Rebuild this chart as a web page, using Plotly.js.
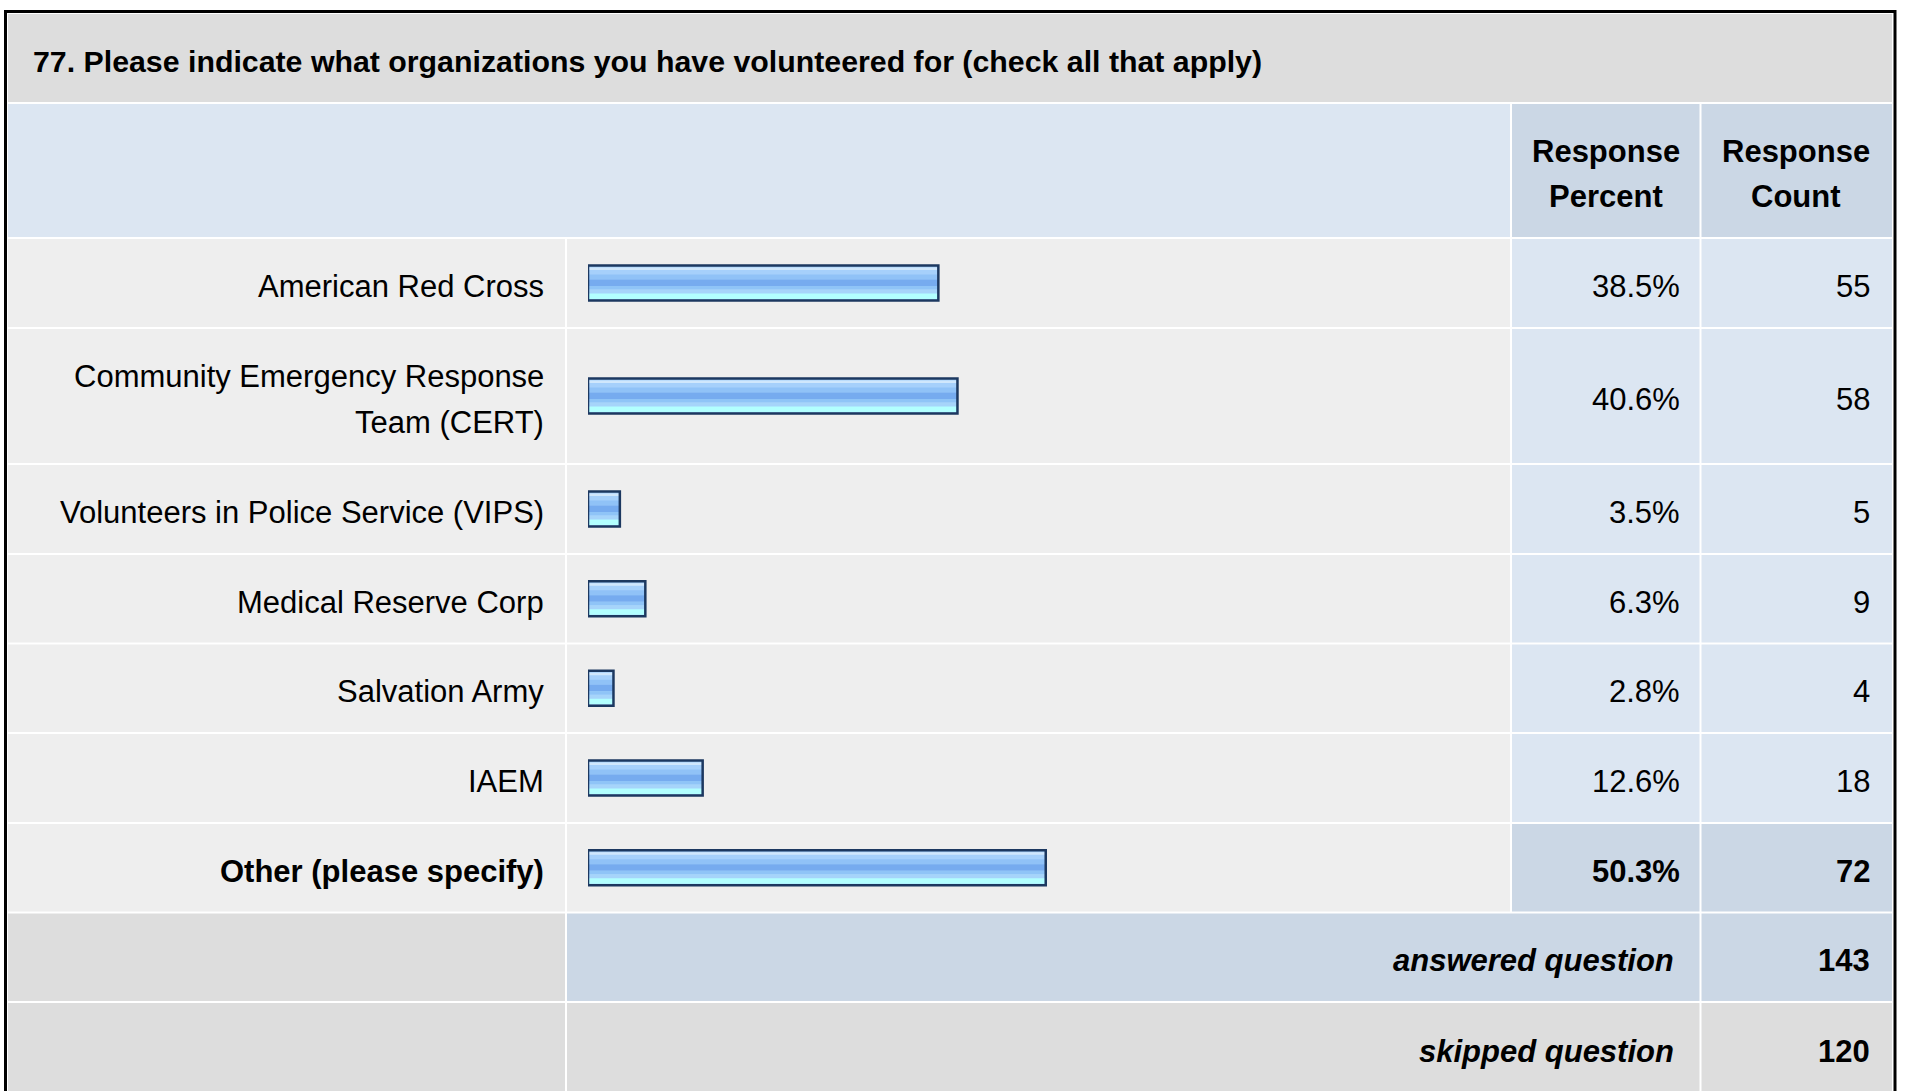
<!DOCTYPE html>
<html>
<head>
<meta charset="utf-8">
<script src="https://cdn.plot.ly/plotly-3.0.1.min.js"></script>
<style>html,body{margin:0;padding:0;background:#fff;}#chart{width:1911px;height:1091px;}</style>
</head>
<body>
<div id="chart"></div>
<script>
// ---------------- DATA ----------------
const questionTitle = "77. Please indicate what organizations you have volunteered for (check all that apply)";
const categories = [
  "American Red Cross",
  "Community Emergency Response<br>Team (CERT)",
  "Volunteers in Police Service (VIPS)",
  "Medical Reserve Corp",
  "Salvation Army",
  "IAEM",
  "Other (please specify)"
];
const responsePercent = [38.5, 40.6, 3.5, 6.3, 2.8, 12.6, 50.3];
const responseCount = [55, 58, 5, 9, 4, 18, 72];
const columnHeaders = ["Response<br>Percent", "Response<br>Count"];
const summaryLabels = ["answered question", "skipped question"];
const summaryCounts = [143, 120];

// ---------------- LAYOUT / STYLE ----------------
const W = 1911, H = 1091;
const FONT = "Liberation Sans, Arial, Helvetica, sans-serif";
const FS = 31, TITLE_FS = 30.3, LINE_GAP = 46, TEXT_DY = 3.5;
const px = x => x / W;
const py = y => 1 - y / H;

const COL = {left: 8, labelEnd: 566, barStart: 588, barFull: 1498, barEnd: 1511, pctEnd: 1700.5, right: 1892};
// horizontal white separator lines (pixel y); rows live between them
const SEP = [103, 238, 328, 464, 554, 643.5, 733, 823, 912.5, 1002, 1093];
const TITLE_TOP = 14;
const C = {title: "#dddddd", header: "#dce6f2", headerDark: "#cbd7e5", cell: "#eeeeee", valueCell: "#dce6f2", gray: "#dddddd"};
const BAR_H = 35;
const STRIPES = [
  {t0: 0, t1: 35, color: "#a6d0fb"},
  {t0: 2, t1: 4.5, color: "#d0e7fc"},
  {t0: 9, t1: 14, color: "#90c2f7"},
  {t0: 14, t1: 20.5, color: "#76abef"},
  {t0: 20.5, t1: 24, color: "#8fc4f7"},
  {t0: 24, t1: 28, color: "#a6d4fa"},
  {t0: 28, t1: 33.5, color: "#b2ffff"}
];
const OUTLINE = "#1c3860";

const shapes = [];
const annotations = [];
function rect(x0, y0, x1, y1, fill) {
  shapes.push({type: "rect", xref: "paper", yref: "paper", layer: "below",
    x0: px(x0), x1: px(x1), y0: py(y1), y1: py(y0), fillcolor: fill, line: {width: 0}});
}
function text(str, x, y, anchor, opts) {
  opts = opts || {};
  annotations.push({xref: "paper", yref: "paper", x: px(x), y: py(y), text: str, showarrow: false,
    xanchor: anchor, yanchor: "middle", align: anchor === "center" ? "center" : anchor,
    font: {family: FONT, size: opts.size || FS, color: "#000"}});
}
function multiline(str, x, yc, anchor, wrap) {
  const lines = str.split("<br>");
  lines.forEach((ln, k) => {
    const y = yc + (k - (lines.length - 1) / 2) * LINE_GAP;
    text(wrap ? wrap(ln) : ln, x, y, anchor);
  });
}

// outer frame
shapes.push({type: "rect", xref: "paper", yref: "paper", layer: "below",
  x0: px(5.5), x1: px(1895), y0: py(1120), y1: py(11.5), fillcolor: "#ffffff", line: {color: "#000", width: 3}});

// title band
rect(COL.left, TITLE_TOP, COL.right, SEP[0] - 1, C.title);
text("<b>" + questionTitle + "</b>", 31, 61, "left", {size: TITLE_FS});

// header row
const hTop = SEP[0] + 1, hBot = SEP[1] - 1, hC = (hTop + hBot) / 2;
rect(COL.left, hTop, COL.barEnd - 1, hBot, C.header);
rect(COL.barEnd + 1, hTop, COL.pctEnd - 1, hBot, C.headerDark);
rect(COL.pctEnd + 1, hTop, COL.right, hBot, C.headerDark);
multiline(columnHeaders[0], (COL.barEnd + COL.pctEnd) / 2, hC + TEXT_DY, "center", s => "<b>" + s + "</b>");
multiline(columnHeaders[1], (COL.pctEnd + COL.right) / 2, hC + TEXT_DY, "center", s => "<b>" + s + "</b>");

// data rows + axes
const traces = [];
const layoutAxes = {};
categories.forEach((cat, i) => {
  const top = SEP[i + 1] + 1, bot = SEP[i + 2] - 1, yc = (top + bot) / 2;
  const isOther = i === categories.length - 1;
  const b = s => isOther ? "<b>" + s + "</b>" : s;
  rect(COL.left, top, COL.labelEnd - 1, bot, C.cell);
  rect(COL.labelEnd + 1, top, COL.barEnd - 1, bot, C.cell);
  rect(COL.barEnd + 1, top, COL.pctEnd - 1, bot, isOther ? C.headerDark : C.valueCell);
  rect(COL.pctEnd + 1, top, COL.right, bot, isOther ? C.headerDark : C.valueCell);
  multiline(cat, 546, yc + TEXT_DY, "right", b);
  text(b(responsePercent[i].toFixed(1) + "%"), 1682, yc + TEXT_DY, "right");
  text(b(String(responseCount[i])), 1872, yc + TEXT_DY, "right");

  // one y axis per row so each bar sits in the middle of its (uneven) row
  const axName = i === 0 ? "yaxis" : "yaxis" + (i + 1);
  const axRef = i === 0 ? "y" : "y" + (i + 1);
  const rh = bot - top;
  layoutAxes[axName] = {domain: [py(bot), py(top)], type: "category", range: [-0.5, 0.5],
    visible: false, fixedrange: true, anchor: "x"};
  STRIPES.forEach(st => {
    traces.push({type: "bar", orientation: "h", x: [responsePercent[i]], y: [cat], yaxis: axRef, xaxis: "x",
      width: (st.t1 - st.t0) / rh, offset: (BAR_H / 2 - st.t1) / rh,
      marker: {color: st.color, line: {width: 0}}, hoverinfo: "skip", showlegend: false});
  });
  traces.push({type: "bar", orientation: "h", x: [responsePercent[i]], y: [cat], yaxis: axRef, xaxis: "x",
    width: BAR_H / rh, offset: -BAR_H / 2 / rh,
    marker: {color: "rgba(0,0,0,0)", line: {width: 2.5, color: OUTLINE}}, hoverinfo: "skip", showlegend: false});
});

// summary rows
const n = categories.length;
summaryLabels.forEach((lab, k) => {
  const top = SEP[n + 1 + k] + 1, bot = SEP[n + 2 + k] - 1, yc = (top + bot) / 2;
  const mid = k === 0 ? C.headerDark : C.gray;
  rect(COL.left, top, COL.labelEnd - 1, bot, C.gray);
  rect(COL.labelEnd + 1, top, COL.pctEnd - 1, bot + (k === 1 ? 30 : 0), mid);
  rect(COL.pctEnd + 1, top, COL.right, bot + (k === 1 ? 30 : 0), mid);
  if (k === 1) rect(COL.left, top, COL.labelEnd - 1, bot + 30, C.gray);
  text("<b><i>" + lab + "</i></b>", 1676, yc + TEXT_DY, "right");
  text("<b>" + summaryCounts[k] + "</b>", 1872, yc + TEXT_DY, "right");
});

const layout = Object.assign({
  width: W, height: H, margin: {l: 0, r: 0, t: 0, b: 0, pad: 0},
  paper_bgcolor: "#ffffff", plot_bgcolor: "rgba(0,0,0,0)",
  barmode: "overlay", showlegend: false,
  xaxis: {domain: [px(COL.barStart), px(COL.barFull)], range: [0, 100], visible: false, fixedrange: true},
  shapes: shapes, annotations: annotations, font: {family: FONT}
}, layoutAxes);

Plotly.newPlot("chart", traces, layout, {staticPlot: true, displayModeBar: false});
</script>
</body>
</html>
